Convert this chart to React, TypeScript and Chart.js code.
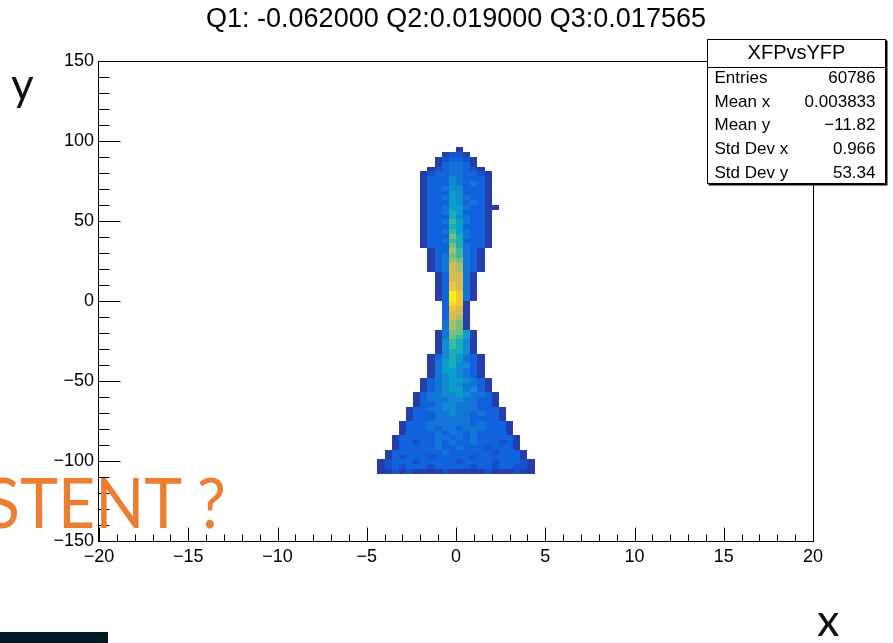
import React, { useEffect, useRef } from "react";
import { Chart, registerables } from "chart.js";

Chart.register(...registerables);

// ---------- chart text ----------
const TITLE = "Q1: -0.062000 Q2:0.019000 Q3:0.017565";

// ---------- axes ----------
const X_MIN = -20;
const X_MAX = 20;
const Y_MIN = -150;
const Y_MAX = 150;
const X_MAJOR_STEP = 5;
const Y_MAJOR_STEP = 50;
const X_MINOR_STEP = 1;
const Y_MINOR_STEP = 10;

// ---------- histogram binning ----------
const X_BIN_WIDTH = 0.4;
const Y_BIN_WIDTH = 3;
const X_FIRST_EDGE = -4.4; // low edge of bin column 0
const Y_TOP_EDGE = 96; // high edge of row 0

// content levels (letters) -> normalised palette value
const LEVEL_KEYS = "abcdefghijklmn";
const LEVEL_VALUES = [0.05, 0.1, 0.15, 0.21, 0.28, 0.36, 0.44, 0.52, 0.6, 0.68, 0.76, 0.84, 0.92, 0.98];

// each row (top to bottom): first filled x-bin column, then the levels of consecutive bins
const ROW_START_BINS = [
  11, 9, 8, 8, 7, 6, 6, 6, 6, 6, 6, 6, 6, 6, 6, 6, 6, 6, 6, 6, 6,
  7, 7, 7, 7, 7, 8, 8, 8, 8, 8, 8, 9, 9, 9, 9, 9, 9, 8, 8, 8, 8, 8,
  7, 7, 7, 7, 7, 6, 6, 6, 5, 5, 5, 4, 4, 4, 3, 3, 3, 2, 2, 2, 1, 1, 0, 0, 0,
];
const ROW_LEVELS = [
  "a",
  "abba",
  "abccba",
  "acddca",
  "abcddcba",
  "abccddccba",
  "acccedccca",
  "acccedcdca",
  "accdeeccca",
  "acccfeccca",
  "accdfedcca",
  "acccfecdca",
  "accdffdccaa",
  "accdgfccca",
  "acccgedcca",
  "accdhfdcca",
  "acccgfccca",
  "accdhfdcca",
  "acccigdcca",
  "accdhgccca",
  "acccigdcca",
  "accjhdca",
  "acdihdca",
  "acdjidca",
  "acdkjdca",
  "acdkjdca",
  "ackkda",
  "ackkda",
  "aclkda",
  "aclkda",
  "acnlda",
  "acnlda",
  "cmla",
  "clka",
  "ckka",
  "ckja",
  "djia",
  "djia",
  "adiifa",
  "adihfa",
  "aehgea",
  "aehgea",
  "aeggea",
  "acegfdca",
  "adfgfdca",
  "adfgeeca",
  "adffedca",
  "adefedca",
  "acdeffedca",
  "acdefeddca",
  "acdeffdeca",
  "acddeefeddca",
  "acdddeeddcca",
  "accdeedddcca",
  "accddeedddccca",
  "acccddeddcdcca",
  "acccdddddcccca",
  "acccddddddcdccca",
  "acccdcddcdddccca",
  "accccdcddcdcccca",
  "acccccddcdcdccccca",
  "accbccdcdccdcccbca",
  "acccccdccdcccbccca",
  "acccccccdccccccbccca",
  "acbcccbcccccbcccccca",
  "abcccbcccccbccccbcccba",
  "abcbcccbcccccbccbccbba",
  "aababaaaabaaaaabaaabaa",
];

// ---------- statistics box ----------
const STATS_NAME = "XFPvsYFP";
const STATS_LABELS = ["Entries", "Mean x", "Mean y", "Std Dev x", "Std Dev y"];
const STATS_VALUES = ["60786", "0.003833", "\u221211.82", "0.966", "53.34"];

// ---------- annotation texts ----------
const Y_NOTE = "y";
const X_NOTE = "x";
const QUESTION_NOTE = "STENT ?";

// ROOT kBird palette
const PAL_STOPS = [0, 0.125, 0.25, 0.375, 0.5, 0.625, 0.75, 0.875, 1];
const PAL_R = [0.2082, 0.0592, 0.078, 0.0232, 0.1802, 0.5301, 0.8186, 0.9956, 0.9764];
const PAL_G = [0.1664, 0.3599, 0.5041, 0.6419, 0.7178, 0.7492, 0.7328, 0.7862, 0.9832];
const PAL_B = [0.5293, 0.8684, 0.8385, 0.7914, 0.6425, 0.4662, 0.3499, 0.1968, 0.0539];

function paletteColor(v: number): string {
  let i = 0;
  while (i < PAL_STOPS.length - 2 && v > PAL_STOPS[i + 1]) i++;
  const t = Math.max(0, Math.min(1, (v - PAL_STOPS[i]) / (PAL_STOPS[i + 1] - PAL_STOPS[i])));
  const c = (a: number[]) => Math.round(255 * (a[i] + (a[i + 1] - a[i]) * t));
  return `rgb(${c(PAL_R)},${c(PAL_G)},${c(PAL_B)})`;
}

type Cell = { x: number; y: number; v: number };

function buildCells(): Cell[] {
  const cells: Cell[] = [];
  ROW_LEVELS.forEach((row, j) => {
    const start = ROW_START_BINS[j];
    for (let i = 0; i < row.length; i++) {
      const k = LEVEL_KEYS.indexOf(row[i]);
      if (k < 0) continue;
      const xLow = X_FIRST_EDGE + (start + i) * X_BIN_WIDTH;
      const yLow = Y_TOP_EDGE - (j + 1) * Y_BIN_WIDTH;
      cells.push({ x: xLow + X_BIN_WIDTH / 2, y: yLow + Y_BIN_WIDTH / 2, v: LEVEL_VALUES[k] });
    }
  });
  return cells;
}

const fmt = (v: number | string) => {
  const n = Number(v);
  return n < 0 ? "\u2212" + Math.abs(n) : String(n);
};

const ROOT_FONT = "'Liberation Sans', Arial, Helvetica, sans-serif";

const heatmapPlugin = {
  id: "heatmap",
  beforeDatasetsDraw(chart: any) {
    const { ctx, chartArea, scales } = chart;
    const xs = scales.x;
    const ys = scales.y;
    const data = chart.data.datasets[0].data as Cell[];
    ctx.save();
    ctx.beginPath();
    ctx.rect(chartArea.left, chartArea.top, chartArea.right - chartArea.left, chartArea.bottom - chartArea.top);
    ctx.clip();
    for (const c of data) {
      const x0 = Math.round(xs.getPixelForValue(c.x - X_BIN_WIDTH / 2));
      const x1 = Math.round(xs.getPixelForValue(c.x + X_BIN_WIDTH / 2));
      const y0 = Math.round(ys.getPixelForValue(c.y - Y_BIN_WIDTH / 2));
      const y1 = Math.round(ys.getPixelForValue(c.y + Y_BIN_WIDTH / 2));
      ctx.fillStyle = paletteColor(c.v);
      ctx.fillRect(x0, y1, x1 - x0, y0 - y1);
    }
    ctx.restore();
  },
};

const framePlugin = {
  id: "rootFrame",
  afterDraw(chart: any) {
    const { ctx, chartArea, scales } = chart;
    const xs = scales.x;
    const ys = scales.y;
    const L = Math.round(chartArea.left) - 0.5;
    const R = Math.round(chartArea.right) + 0.5;
    const T = Math.round(chartArea.top) + 0.5;
    const B = Math.round(chartArea.bottom) + 0.5;
    ctx.save();
    ctx.strokeStyle = "#000";
    ctx.lineWidth = 1;
    ctx.strokeRect(L, T, R - L, B - T);
    ctx.beginPath();
    for (let v = X_MIN; v <= X_MAX + 1e-9; v += X_MINOR_STEP) {
      const px = Math.round(xs.getPixelForValue(v)) + 0.5;
      const len = Math.abs(v % X_MAJOR_STEP) < 1e-9 ? 14 : 7;
      ctx.moveTo(px, B);
      ctx.lineTo(px, B - len);
    }
    for (let v = Y_MIN; v <= Y_MAX + 1e-9; v += Y_MINOR_STEP) {
      const py = Math.round(ys.getPixelForValue(v)) + 0.5;
      const len = Math.abs(v % Y_MAJOR_STEP) < 1e-9 ? 22 : 11;
      ctx.moveTo(L, py);
      ctx.lineTo(L + len, py);
    }
    ctx.stroke();

    // statistics box
    const bx = 707.5;
    const by = 39.5;
    const bw = 178;
    const bh = 144;
    ctx.fillStyle = "#000";
    ctx.fillRect(bx + 1, by + 1, bw + 1, bh + 1);
    ctx.fillStyle = "#fff";
    ctx.fillRect(bx, by, bw, bh);
    ctx.strokeRect(bx, by, bw, bh);
    ctx.beginPath();
    ctx.moveTo(bx, by + 28);
    ctx.lineTo(bx + bw, by + 28);
    ctx.stroke();
    ctx.fillStyle = "#000";
    ctx.textBaseline = "middle";
    ctx.font = `20px ${ROOT_FONT}`;
    ctx.textAlign = "center";
    ctx.fillText(STATS_NAME, bx + bw / 2, by + 14);
    ctx.font = `17px ${ROOT_FONT}`;
    STATS_LABELS.forEach((lab, i) => {
      const yy = by + 39 + i * 23.6;
      ctx.textAlign = "left";
      ctx.fillText(lab, bx + 7, yy);
      ctx.textAlign = "right";
      ctx.fillText(STATS_VALUES[i], bx + bw - 10, yy);
    });
    ctx.restore();
  },
};

export default function App() {
  const ref = useRef<HTMLCanvasElement | null>(null);

  useEffect(() => {
    if (!ref.current) return;
    const chart = new Chart(ref.current, {
      type: "scatter",
      data: {
        datasets: [
          {
            label: STATS_NAME,
            data: buildCells() as any,
            pointRadius: 0,
            pointHoverRadius: 0,
            showLine: false,
          },
        ],
      },
      options: {
        animation: false,
        responsive: false,
        devicePixelRatio: 1,
        events: [],
        layout: { padding: { top: 0, right: 80, left: 0, bottom: 0 } },
        plugins: {
          legend: { display: false },
          tooltip: { enabled: false },
          title: {
            display: true,
            text: TITLE,
            fullSize: false,
            color: "#000",
            font: { family: ROOT_FONT, size: 27, weight: "normal", lineHeight: 1.2 },
            padding: { top: 3, bottom: 25.6 },
          },
        },
        scales: {
          x: {
            type: "linear",
            min: X_MIN,
            max: X_MAX,
            grid: { display: false, drawTicks: false },
            border: { display: false },
            ticks: {
              stepSize: X_MAJOR_STEP,
              padding: 5,
              color: "#000",
              maxRotation: 0,
              autoSkip: false,
              font: { family: ROOT_FONT, size: 18 },
              callback: fmt,
            },
            afterFit: (s: any) => {
              s.height = 102;
            },
          },
          y: {
            type: "linear",
            min: Y_MIN,
            max: Y_MAX,
            grid: { display: false, drawTicks: false },
            border: { display: false },
            ticks: {
              stepSize: Y_MAJOR_STEP,
              padding: 5,
              color: "#000",
              autoSkip: false,
              font: { family: ROOT_FONT, size: 18 },
              callback: fmt,
            },
            afterFit: (s: any) => {
              s.width = 99;
            },
          },
        },
      } as any,
      plugins: [heatmapPlugin, framePlugin],
    });
    return () => chart.destroy();
  }, []);

  return (
    <div
      style={{
        position: "fixed",
        left: 0,
        top: 0,
        width: 893,
        height: 643,
        background: "#fff",
        overflow: "hidden",
      }}
    >
      <canvas ref={ref} width={893} height={643} style={{ position: "absolute", left: 0, top: 0, width: 893, height: 643 }} />
      <div style={{ position: "absolute", left: 11, top: 61, font: "400 44px Lato, 'Open Sans', sans-serif", lineHeight: "44px", color: "#111" }}>
        {Y_NOTE}
      </div>
      <div style={{ position: "absolute", left: 817, top: 597, font: "400 45px Lato, 'Open Sans', sans-serif", lineHeight: "45px", color: "#111" }}>
        {X_NOTE}
      </div>
      <div
        style={{
          position: "absolute",
          left: -15,
          top: 466,
          font: "400 70px Lato, 'Open Sans', sans-serif",
          lineHeight: "70px",
          color: "#ED7D31",
          whiteSpace: "nowrap",
          transformOrigin: "0 0",
          transform: "scaleX(0.92)",
        }}
      >
        {QUESTION_NOTE}
      </div>
      <div style={{ position: "absolute", left: 0, top: 632, width: 108, height: 11, background: "#021a25" }} />
    </div>
  );
}
